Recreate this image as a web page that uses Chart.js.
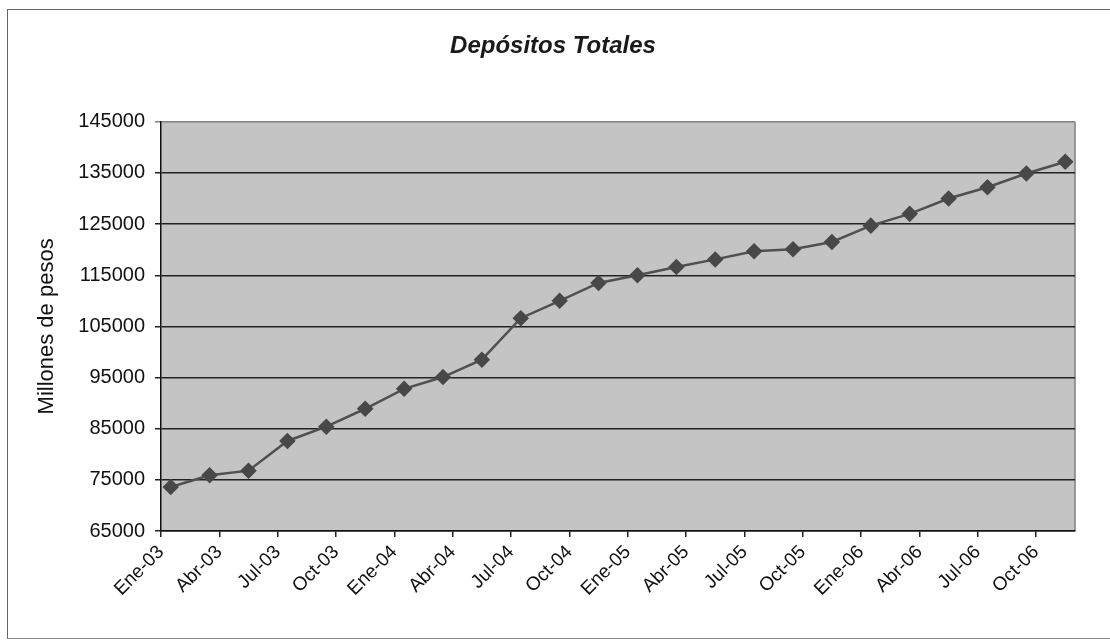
<!DOCTYPE html>
<html>
<head>
<meta charset="utf-8">
<script src="https://cdn.jsdelivr.net/npm/chart.js@4"></script>
<style>
  body { margin: 0; background: #fff; }
  #wrap { position: relative; width: 1110px; height: 643px; overflow: hidden; }
  #frame { position: absolute; left: 7px; top: 9px; width: 1120px; height: 628px;
           border-left: 1.5px solid #666; border-top: 1.5px solid #666; border-bottom: 1.5px solid #888; }
  canvas { position: absolute; left: 0; top: 0; }
</style>
</head>
<body>
<div id="wrap">
  <div id="frame"></div>
  <canvas id="depositos" width="1110" height="643"></canvas>
</div>
<script>
var monthNames = ['Ene','Feb','Mar','Abr','May','Jun','Jul','Ago','Sep','Oct','Nov','Dic']
var years = ['03','04','05','06']

// datos bimestrales (millones de pesos)
var pointMonths = ['Ene-03','Mar-03','May-03','Jul-03','Sep-03','Nov-03',
                   'Ene-04','Mar-04','May-04','Jul-04','Sep-04','Nov-04',
                   'Ene-05','Mar-05','May-05','Jul-05','Sep-05','Nov-05',
                   'Ene-06','Mar-06','May-06','Jul-06','Sep-06','Nov-06']
var depositos = [73600, 75900, 76800, 82600, 85400, 88900,
                 92800, 95100, 98500, 106600, 110000, 113500,
                 115000, 116600, 118100, 119700, 120100, 121500,
                 124700, 127000, 130000, 132200, 134900, 137200]

var tickLabels = ['Ene-03','Abr-03','Jul-03','Oct-03','Ene-04','Abr-04','Jul-04','Oct-04',
                  'Ene-05','Abr-05','Jul-05','Oct-05','Ene-06','Abr-06','Jul-06','Oct-06']

// eje mensual Ene-03 .. Nov-06
var months = []
years.forEach(y => monthNames.forEach(m => months.push(m + '-' + y)))
months = months.slice(0, months.indexOf('Nov-06') + 1)

var serie = months.map(m => {
    var i = pointMonths.indexOf(m)
    return i < 0 ? null : depositos[i]
})

var plotBg = {
    id: 'plotBg',
    beforeDraw: function (chart) {
        var ctx = chart.ctx, a = chart.chartArea
        ctx.save()
        ctx.fillStyle = '#c4c4c4'
        ctx.fillRect(a.left, a.top, a.right - a.left, a.bottom - a.top)
        ctx.strokeStyle = '#808080'
        ctx.lineWidth = 1.5
        ctx.beginPath()
        ctx.moveTo(a.right, a.top)
        ctx.lineTo(a.right, a.bottom)
        ctx.stroke()
        ctx.restore()
    }
}

var font = "'Liberation Sans', Arial, sans-serif"

new Chart(document.getElementById('depositos'), {
    type: 'line',
    data: {
        labels: months,
        datasets: [{
            label: 'Depósitos Totales',
            data: serie,
            spanGaps: true,
            borderColor: '#505050',
            borderWidth: 2.5,
            pointStyle: 'rectRot',
            pointRadius: 6.5,
            pointBackgroundColor: '#484848',
            pointBorderColor: '#484848',
            tension: 0
        }]
    },
    options: {
        responsive: false,
        animation: false,
        layout: { padding: { left: 31, right: 35, top: 0, bottom: 10 } },
        plugins: {
            legend: { display: false },
            tooltip: { enabled: false },
            title: {
                display: true,
                text: 'Depósitos Totales',
                color: '#1a1a1a',
                font: { family: font, size: 24, weight: 'bold', style: 'italic' },
                padding: { top: 32, bottom: 61 }
            }
        },
        scales: {
            x: {
                type: 'category',
                offset: true,
                afterFit: function (scale) { scale.height = 102 },
                grid: {
                    offset: true,
                    drawOnChartArea: false,
                    tickLength: 6,
                    lineWidth: 1.5,
                    color: ctx => ctx.index % 3 === 0 ? '#222' : 'rgba(0,0,0,0)'
                },
                border: { color: '#111', width: 1.5 },
                ticks: {
                    autoSkip: false,
                    maxRotation: 45,
                    minRotation: 45,
                    labelOffset: -9.7,
                    padding: 4,
                    color: '#111',
                    font: { family: font, size: 19 },
                    callback: function (value) {
                        var label = this.getLabelForValue(value)
                        return tickLabels.includes(label) ? label : ''
                    }
                }
            },
            y: {
                min: 65000,
                max: 145000,
                afterFit: function (scale) { scale.width = 130 },
                grid: {
                    tickLength: 6,
                    lineWidth: 1.5,
                    color: ctx => ctx.tick && ctx.tick.value === 145000 ? '#808080' : '#222'
                },
                border: { color: '#111', width: 1.5 },
                ticks: {
                    stepSize: 10000,
                    padding: 10,
                    color: '#111',
                    font: { family: font, size: 20 },
                    callback: value => String(value)
                },
                title: {
                    display: true,
                    text: 'Millones de pesos',
                    color: '#111',
                    font: { family: font, size: 22 },
                    padding: { top: 3, bottom: 0 }
                }
            }
        }
    },
    plugins: [plotBg]
})
</script>
</body>
</html>
